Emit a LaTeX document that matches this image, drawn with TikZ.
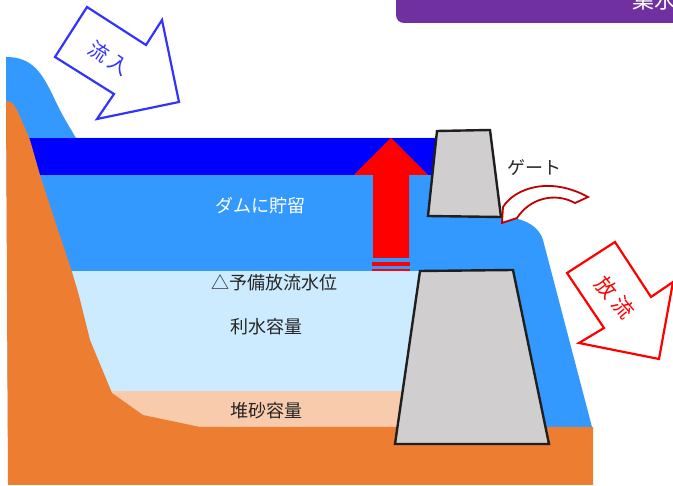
\documentclass[tikz,border=0pt]{standalone}
\usepackage{fontspec}
\setmainfont{Noto Sans CJK JP}
\begin{document}
\begin{tikzpicture}[x=1pt,y=-1pt,
  lbl/.style={font=\fontsize{18}{20}\selectfont, text=black!85, inner sep=0pt},
  concrete/.style={fill=damgray, draw=black!88, line width=2.4pt, line join=miter},
  bigarrow/.style={fill=white, line width=2.2pt, line join=miter}]
\definecolor{deepblue}{HTML}{0000FF}
\definecolor{midblue}{HTML}{3399FF}
\definecolor{paleblue}{HTML}{CCEBFF}
\definecolor{sand}{HTML}{F8CBAD}
\definecolor{earth}{HTML}{ED7D31}
\definecolor{damgray}{HTML}{D0CECE}
\definecolor{banner}{HTML}{7030A0}
\definecolor{inflow}{HTML}{3333FF}
\definecolor{gatered}{HTML}{C00000}
\useasboundingbox (0,0) rectangle (673,486);
\clip (0,0) rectangle (673,486);

% title banner
\fill[banner, rounded corners=8pt] (396,-20) rectangle (690,23);
\node[anchor=base west, text=white, font=\fontsize{22}{24}\selectfont, inner sep=0pt] (title) at (632,8.5) {集水};

% reservoir water, inflow stream and outflow below the gate
\fill[midblue] (6,57) .. controls (32,57) and (42,72) .. (55,100)
  .. controls (62,115) and (70,128) .. (76,138) -- (437,138) -- (428,216) -- (502,217)
  .. controls (525,217) and (540,228) .. (543,240) -- (592,427) -- (8,427) -- cycle;
% flood surcharge zone
\fill[deepblue] (20,138) rectangle (440,175);
% water-use capacity
\fill[paleblue] (20,271) rectangle (421,391);
% sediment capacity
\fill[sand] (20,391) rectangle (420,432);
% valley ground
\fill[earth] (6,101) -- (11,102) .. controls (15,105) and (18,112) .. (22,121)
  -- (30,140) -- (40,175) -- (58,230) -- (72,272) -- (78,292) -- (90,340)
  -- (112,393) -- (143,415) -- (200,427) -- (593,427) -- (593,485) -- (8,485) -- cycle;

% dam body and gate
\draw[concrete] (420,271) -- (513,270) -- (549,444) -- (395,444) -- cycle;
\draw[concrete] (437,131) -- (490,130) -- (501,217) -- (428,216) -- cycle;

% water level rise arrow
\fill[red] (354,175) -- (391,138) -- (428,175) -- (409,175) -- (409,258) -- (373,258) -- (373,175) -- cycle;
\fill[red] (372,262) rectangle (410,266);
\fill[red] (372,269) rectangle (410,271.5);

% inflow arrow
\draw[bigarrow, draw=inflow] (87,7) -- (146,45) -- (162,20) -- (179,102) -- (97,119) -- (114,94) -- (55,57) -- cycle;
\node[rotate=-33, text=inflow, font=\fontsize{20}{22}\selectfont, inner sep=0pt] (inlbl) at (109,58) {流\hspace{3pt}入};

% outflow arrow
\draw[bigarrow, draw=red] (615,242) -- (651,297) -- (673,282) -- (659,359) -- (579,343) -- (604,328) -- (567,273) -- cycle;
\node[rotate=-50, text=red, font=\fontsize{21}{23}\selectfont, inner sep=0pt] (outlbl) at (615,297) {放\hspace{5pt}流};

% gate discharge arrow
\draw[fill=white, draw=gatered, line width=1.8pt, line join=miter]
  (502,223) -- (503,207) .. controls (515,188) and (550,176) .. (588,197)
  -- (575,203) .. controls (555,192) and (530,198) .. (517,218) -- cycle;
\node[lbl] (gatelbl) at (534,168) {ゲート};

% zone labels
\node[lbl, text=white] (storage) at (260,206) {ダムに貯留};
\node[lbl] (flood) at (274,283) {△予備放流水位};
\node[lbl] (water) at (266,327) {利水容量};
\node[lbl] (sediment) at (266,411) {堆砂容量};
\end{tikzpicture}
\end{document}
